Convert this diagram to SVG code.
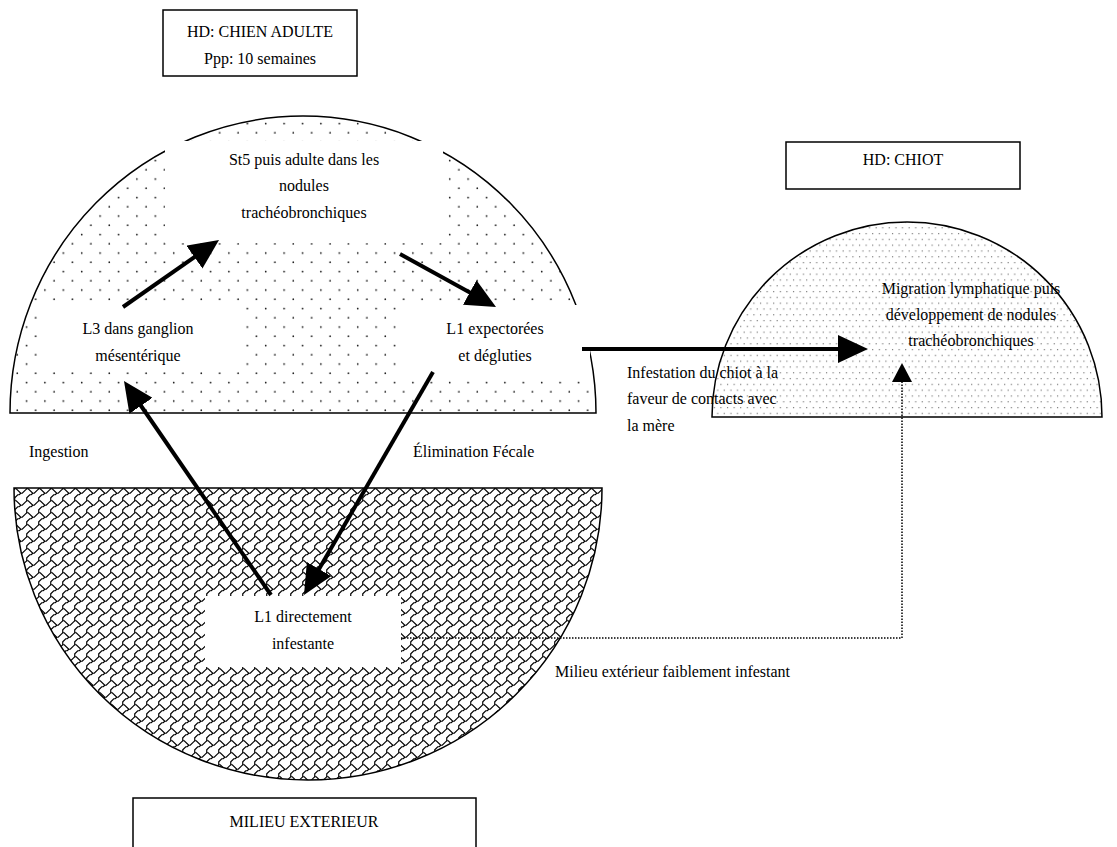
<svg xmlns="http://www.w3.org/2000/svg" width="1117" height="847" viewBox="0 0 1117 847">
<style>
text{font-family:"Liberation Serif","Times New Roman",serif;font-size:16px;fill:#000}
.c{text-anchor:middle}
.box{fill:#fff;stroke:#000;stroke-width:1.5}
.wb{fill:#fff;stroke:none}
.edge{stroke:#000;stroke-width:1.5}
.arrow{stroke:#000;stroke-width:4;fill:none}
.dotted{stroke:#000;stroke-width:1.5;stroke-dasharray:1.5 1.5;fill:none}
</style>
<defs>
<pattern id="dots" patternUnits="userSpaceOnUse" x="58.7" y="378" width="18.4" height="18.5">
<circle cx="4.6" cy="4.6" r="0.85" fill="#111"/>
<circle cx="13.8" cy="13.85" r="0.85" fill="#111"/>
</pattern>
<pattern id="fine" patternUnits="userSpaceOnUse" width="6.6" height="11.6">
<circle cx="1.6" cy="1.6" r="0.55" fill="#444"/>
<circle cx="4.9" cy="7.4" r="0.55" fill="#444"/>
</pattern>
<pattern id="shingle" patternUnits="userSpaceOnUse" x="14" y="488" width="12" height="12">
<path d="M0.75,0.75 L2.25,0.75 L6.75,5.25 L8.25,5.25 L12.75,0.75 M-0.75,2.25 L0.75,0.75 M6.75,5.25 L5.25,6.75 L3.75,6.75 L0.75,9.75 L0.75,12.75 M0.75,-0.75 L0.75,0.75" fill="none" stroke="#000" stroke-width="1.2"/>
</pattern>
<marker id="head" markerUnits="userSpaceOnUse" markerWidth="30" markerHeight="28" viewBox="0 0 30 28" refX="10" refY="14" orient="auto">
<path d="M0,0 L30,14 L0,28 Z" fill="#000"/>
</marker>
</defs>

<g id="host-adult-region">
<path class="edge" d="M10,413 A293,297 0 0 1 596,413 Z" fill="url(#dots)"/>
</g>
<g id="exterior-region">
<path class="edge" d="M14,488 A294,292 0 0 0 602,488 Z" fill="url(#shingle)"/>
</g>
<g id="puppy-region">
<path class="edge" d="M712,417 A195,195 0 0 1 1102,417 Z" fill="url(#fine)"/>
</g>

<g id="node-hd-adulte">
<rect class="box" x="163" y="10" width="194" height="66"/>
<text class="c" x="260" y="37">HD: CHIEN ADULTE</text>
<text class="c" x="260" y="64">Ppp: 10 semaines</text>
</g>
<g id="node-hd-chiot">
<rect class="box" x="786" y="142" width="234" height="47"/>
<text class="c" x="903" y="165">HD: CHIOT</text>
</g>
<g id="node-milieu">
<rect class="box" x="133" y="798" width="343" height="60"/>
<text class="c" x="304" y="827">MILIEU EXTERIEUR</text>
</g>

<g id="node-st5">
<rect class="wb" x="165" y="141" width="278" height="102"/>
<text class="c" x="304" y="165">St5 puis adulte dans les</text>
<text class="c" x="304" y="191">nodules</text>
<text class="c" x="304" y="218">trachéobronchiques</text>
</g>
<g id="node-l3">
<rect class="wb" x="42" y="303" width="203" height="69"/>
<text class="c" x="138" y="334">L3 dans ganglion</text>
<text class="c" x="138" y="361">mésentérique</text>
</g>
<g id="node-l1-exp">
<rect class="wb" x="400" y="305" width="190" height="72"/>
<text class="c" x="495" y="334">L1 expectorées</text>
<text class="c" x="495" y="361">et dégluties</text>
</g>
<g id="node-l1-dir">
<rect class="wb" x="205" y="596" width="196" height="71"/>
<text class="c" x="303" y="622">L1 directement</text>
<text class="c" x="303" y="649">infestante</text>
</g>
<g id="node-migration">
<text class="c" x="971" y="294">Migration lymphatique puis</text>
<text class="c" x="971" y="320">développement de nodules</text>
<text class="c" x="971" y="346">trachéobronchiques</text>
</g>

<g id="connectors">
<line class="arrow" x1="123" y1="307" x2="202.6" y2="251.4" marker-end="url(#head)"/>
<line class="arrow" x1="400" y1="254" x2="478.5" y2="297.3" marker-end="url(#head)"/>
<line class="arrow" x1="433" y1="372" x2="314" y2="577.7" marker-end="url(#head)"/>
<line class="arrow" x1="271" y1="595" x2="135.3" y2="397.5" marker-end="url(#head)"/>
<line class="arrow" x1="582" y1="349" x2="848" y2="349" marker-end="url(#head)"/>
<polyline class="dotted" points="401,638 902,638 902,382"/>
<polygon points="902,363 912,382 892,382" fill="#000"/>
</g>

<g id="labels">
<text x="29" y="457">Ingestion</text>
<text x="413" y="457">Élimination Fécale</text>
<text x="627" y="378">Infestation du chiot à la</text>
<text x="627" y="404">faveur de contacts avec</text>
<text x="627" y="431">la mère</text>
<text x="555" y="677">Milieu extérieur faiblement infestant</text>
</g>
</svg>
